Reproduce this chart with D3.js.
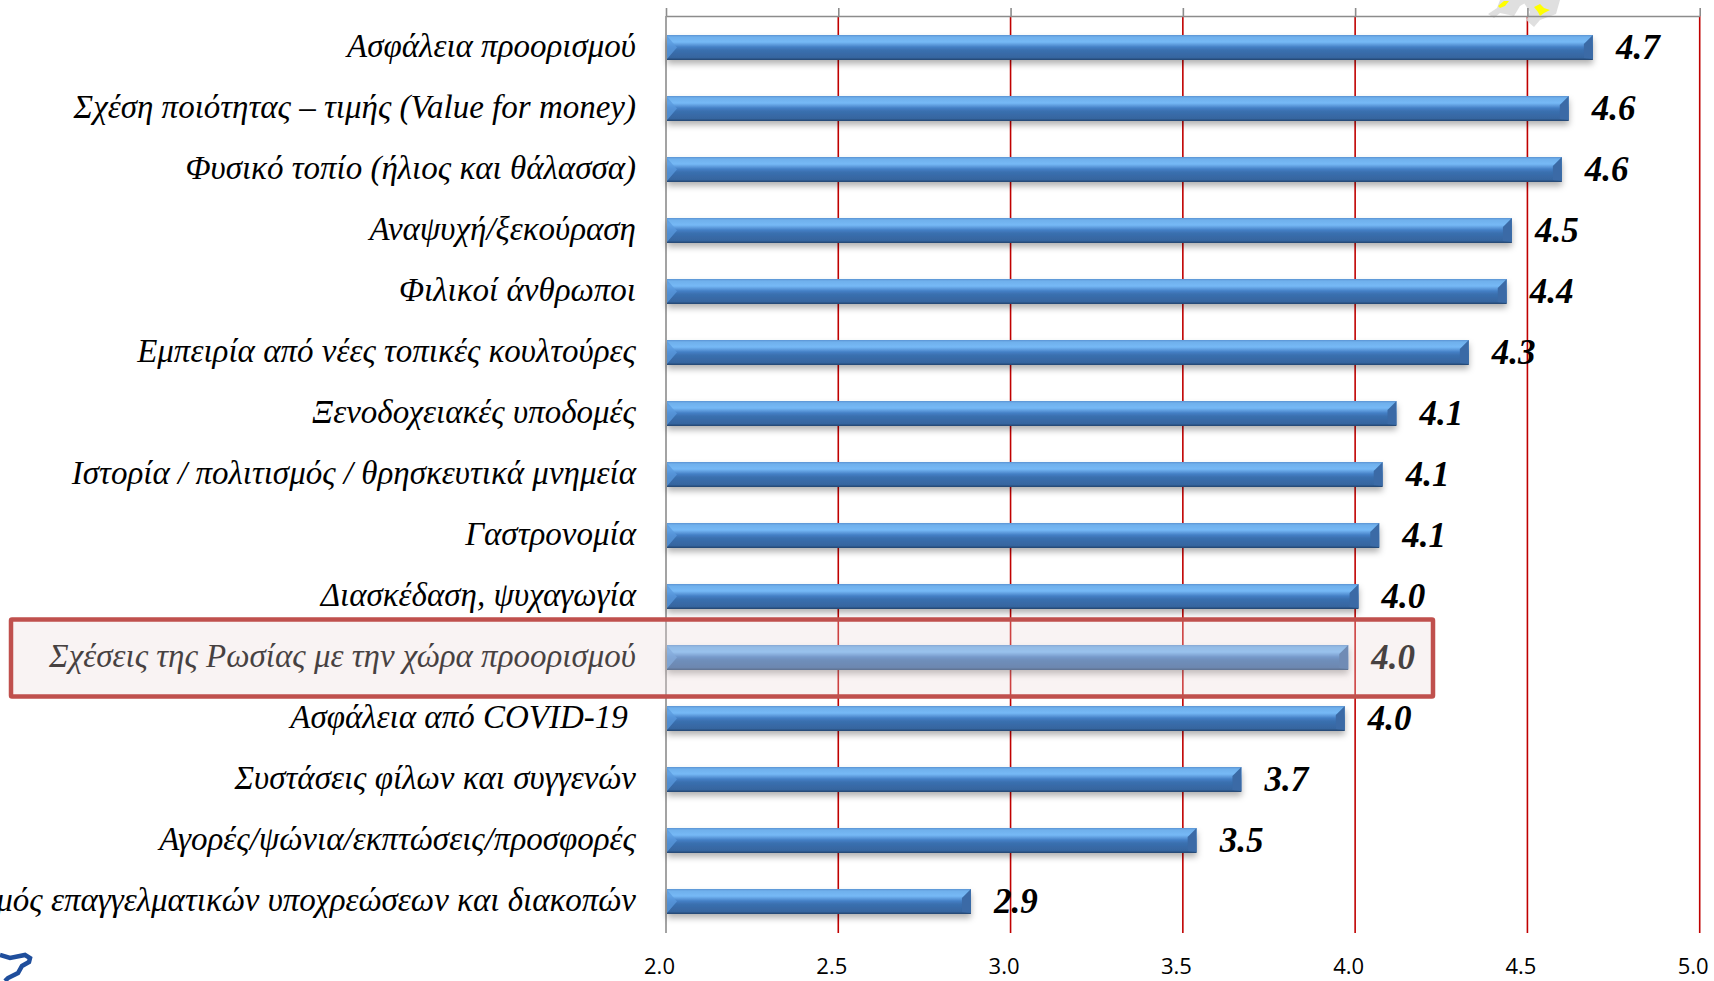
<!DOCTYPE html>
<html>
<head>
<meta charset="utf-8">
<script src="https://cdn.jsdelivr.net/npm/d3@7"></script>
<style>
  html, body { margin: 0; padding: 0; background: #fff; overflow: hidden; }
</style>
</head>
<body>
<div id="chart-area"></div>
<script>
var categories = [
    "Ασφάλεια προορισμού",
    "Σχέση ποιότητας – τιμής (Value for money)",
    "Φυσικό τοπίο (ήλιος και θάλασσα)",
    "Αναψυχή/ξεκούραση",
    "Φιλικοί άνθρωποι",
    "Εμπειρία από νέες τοπικές κουλτούρες",
    "Ξενοδοχειακές υποδομές",
    "Ιστορία / πολιτισμός / θρησκευτικά μνημεία",
    "Γαστρονομία",
    "Διασκέδαση, ψυχαγωγία",
    "Σχέσεις της Ρωσίας με την χώρα προορισμού",
    "Ασφάλεια από COVID-19 ",
    "Συστάσεις φίλων και συγγενών",
    "Αγορές/ψώνια/εκπτώσεις/προσφορές",
    "Συνδυασμός επαγγελματικών υποχρεώσεων και διακοπών"
];
var values = [4.69, 4.62, 4.6, 4.455, 4.44, 4.33, 4.12, 4.08, 4.07, 4.01, 3.98, 3.97, 3.67, 3.54, 2.885];
var valueLabels = ["4.7", "4.6", "4.6", "4.5", "4.4", "4.3", "4.1", "4.1", "4.1", "4.0", "4.0", "4.0", "3.7", "3.5", "2.9"];
var tickValues = [2.0, 2.5, 3.0, 3.5, 4.0, 4.5, 5.0];

var width = 1714, height = 981;
var labelFont = "'Liberation Serif', serif";
var tickFont = "'Open Sans', 'Noto Sans', sans-serif";
var valueFont = "'Liberation Serif', serif";

var svg = d3.select("#chart-area")
    .append("svg")
    .attr("width", width)
    .attr("height", height);

var defs = svg.append("defs");

var barGrad = defs.append("linearGradient")
    .attr("id", "bar-grad")
    .attr("x1", 0).attr("y1", 0).attr("x2", 0).attr("y2", 1);
[[0, "#5b93d3"], [0.08, "#6fb0ec"], [0.28, "#76b9f6"], [0.48, "#4580c6"], [0.6, "#3a70b0"], [0.9, "#36659f"], [1, "#24466f"]]
    .forEach(function(s){
        barGrad.append("stop").attr("offset", s[0]).attr("stop-color", s[1]);
    });

var shadow = defs.append("filter")
    .attr("id", "bar-shadow")
    .attr("x", "-2%").attr("y", "-30%").attr("width", "104%").attr("height", "180%");
shadow.append("feDropShadow")
    .attr("dx", 0).attr("dy", 4).attr("stdDeviation", 3)
    .attr("flood-color", "#000").attr("flood-opacity", 0.3);

// Scales
var x = d3.scaleLinear()
    .domain([2, 5])
    .range([666, 1699.7]);
var y = d3.scaleBand()
    .domain(categories)
    .range([17, 932])
    .paddingInner(0.59)
    .paddingOuter(0.295);

// Red gridlines
svg.append("g").selectAll("line")
    .data(tickValues.slice(1))
    .enter().append("line")
    .attr("x1", function(d){ return x(d); })
    .attr("x2", function(d){ return x(d); })
    .attr("y1", 16).attr("y2", 933)
    .attr("stroke", "#c00000")
    .attr("stroke-width", 1.6);

// Top axis, gray
var topAxis = d3.axisTop(x)
    .tickValues(tickValues)
    .tickSize(8)
    .tickSizeOuter(0)
    .tickFormat("");
var topG = svg.append("g")
    .attr("transform", "translate(0,16)")
    .call(topAxis);
topG.selectAll("line, path").attr("stroke", "#8c8c8c").attr("stroke-width", 1.6);

// Left axis line
svg.append("line")
    .attr("x1", x(2)).attr("x2", x(2))
    .attr("y1", 16).attr("y2", 933)
    .attr("stroke", "#8c8c8c")
    .attr("stroke-width", 1.6);

// Bottom tick labels
var bottomAxis = d3.axisBottom(x)
    .tickValues(tickValues)
    .tickSize(0)
    .tickFormat(d3.format(".1f"));
var bottomG = svg.append("g")
    .attr("transform", "translate(-7,955)")
    .call(bottomAxis);
bottomG.select("path").remove();
bottomG.selectAll("text")
    .attr("font-family", tickFont)
    .attr("font-size", 22)
    .attr("fill", "#000");

// Bars
var bars = svg.append("g").selectAll("g")
    .data(categories)
    .enter().append("g")
    .attr("filter", "url(#bar-shadow)");
bars.append("rect")
    .attr("x", x(2) + 1)
    .attr("y", function(d){ return y(d); })
    .attr("width", function(d, i){ return x(values[i]) - x(2) - 1; })
    .attr("height", y.bandwidth())
    .attr("fill", "url(#bar-grad)");
// bevels at the bar ends
bars.append("path")
    .attr("d", function(d){
        var x0 = x(2) + 1, t = y(d), h = y.bandwidth();
        return "M" + x0 + "," + (t + 1) + "L" + (x0 + 10) + "," + (t + h / 2) + "L" + x0 + "," + (t + h - 1) + "Z";
    })
    .attr("fill", "#5a9ade")
    .attr("opacity", 0.75);
bars.append("path")
    .attr("d", function(d, i){
        var x1 = x(values[i]), t = y(d), h = y.bandwidth();
        return "M" + x1 + "," + t + "L" + x1 + "," + (t + h - 1) + "L" + (x1 - 9) + "," + (t + h - 2) + "L" + (x1 - 9) + "," + (t + 9) + "Z";
    })
    .attr("fill", "#3a6ba6");

// Category labels
svg.append("g").selectAll("text")
    .data(categories)
    .enter().append("text")
    .attr("x", 636)
    .attr("y", function(d){ return y(d) + y.bandwidth() / 2; })
    .attr("dy", "0.3em")
    .attr("text-anchor", "end")
    .attr("xml:space", "preserve")
    .style("white-space", "pre")
    .attr("font-family", labelFont)
    .attr("font-style", "italic")
    .attr("font-size", 33)
    .attr("fill", "#000")
    .text(function(d){ return d; });

// Value labels
svg.append("g").selectAll("text")
    .data(categories)
    .enter().append("text")
    .attr("x", function(d, i){ return x(values[i]) + 23; })
    .attr("y", function(d){ return y(d) + y.bandwidth() / 2; })
    .attr("dy", "0.34em")
    .attr("font-family", valueFont)
    .attr("font-style", "italic")
    .attr("font-weight", "bold")
    .attr("font-size", 35)
    .attr("fill", "#000")
    .text(function(d, i){ return valueLabels[i]; });

// Highlight box over the Russia row
var hy = y(categories[10]) + y.bandwidth() / 2;
svg.append("rect")
    .attr("x", 11).attr("y", hy - 38)
    .attr("width", 1422).attr("height", 77)
    .attr("rx", 1)
    .attr("fill", "rgb(235,215,215)")
    .attr("fill-opacity", 0.3)
    .attr("stroke", "#c0504d")
    .attr("stroke-width", 4.5);

// Small logo pieces cropped at the page edges
svg.append("path")
    .attr("d", "M0,955 L10,958 L25,955 L30,958 L29,962 L22,966 L18,973 L8,978 L5,981")
    .attr("fill", "none")
    .attr("stroke", "#1f4e9c")
    .attr("stroke-width", 4.5);
svg.append("path")
    .attr("d", "M1488,14 L1497,8 L1500,0 L1530,0 L1520,6 L1514,16 L1500,13 L1494,18 Z M1522,0 L1560,0 L1556,14 L1540,20 L1534,27 L1526,20 L1530,12 Z")
    .attr("fill", "#d9d9d9")
    .attr("opacity", 0.85);
topG.raise();
svg.append("path")
    .attr("d", "M1534,7 L1540,4 L1544,8 L1550,10 L1544,13 L1540,16 L1538,12 Z M1498,6 L1504,1 L1509,1 L1505,6 L1500,8 Z")
    .attr("fill", "#ffff00");
</script>
</body>
</html>
